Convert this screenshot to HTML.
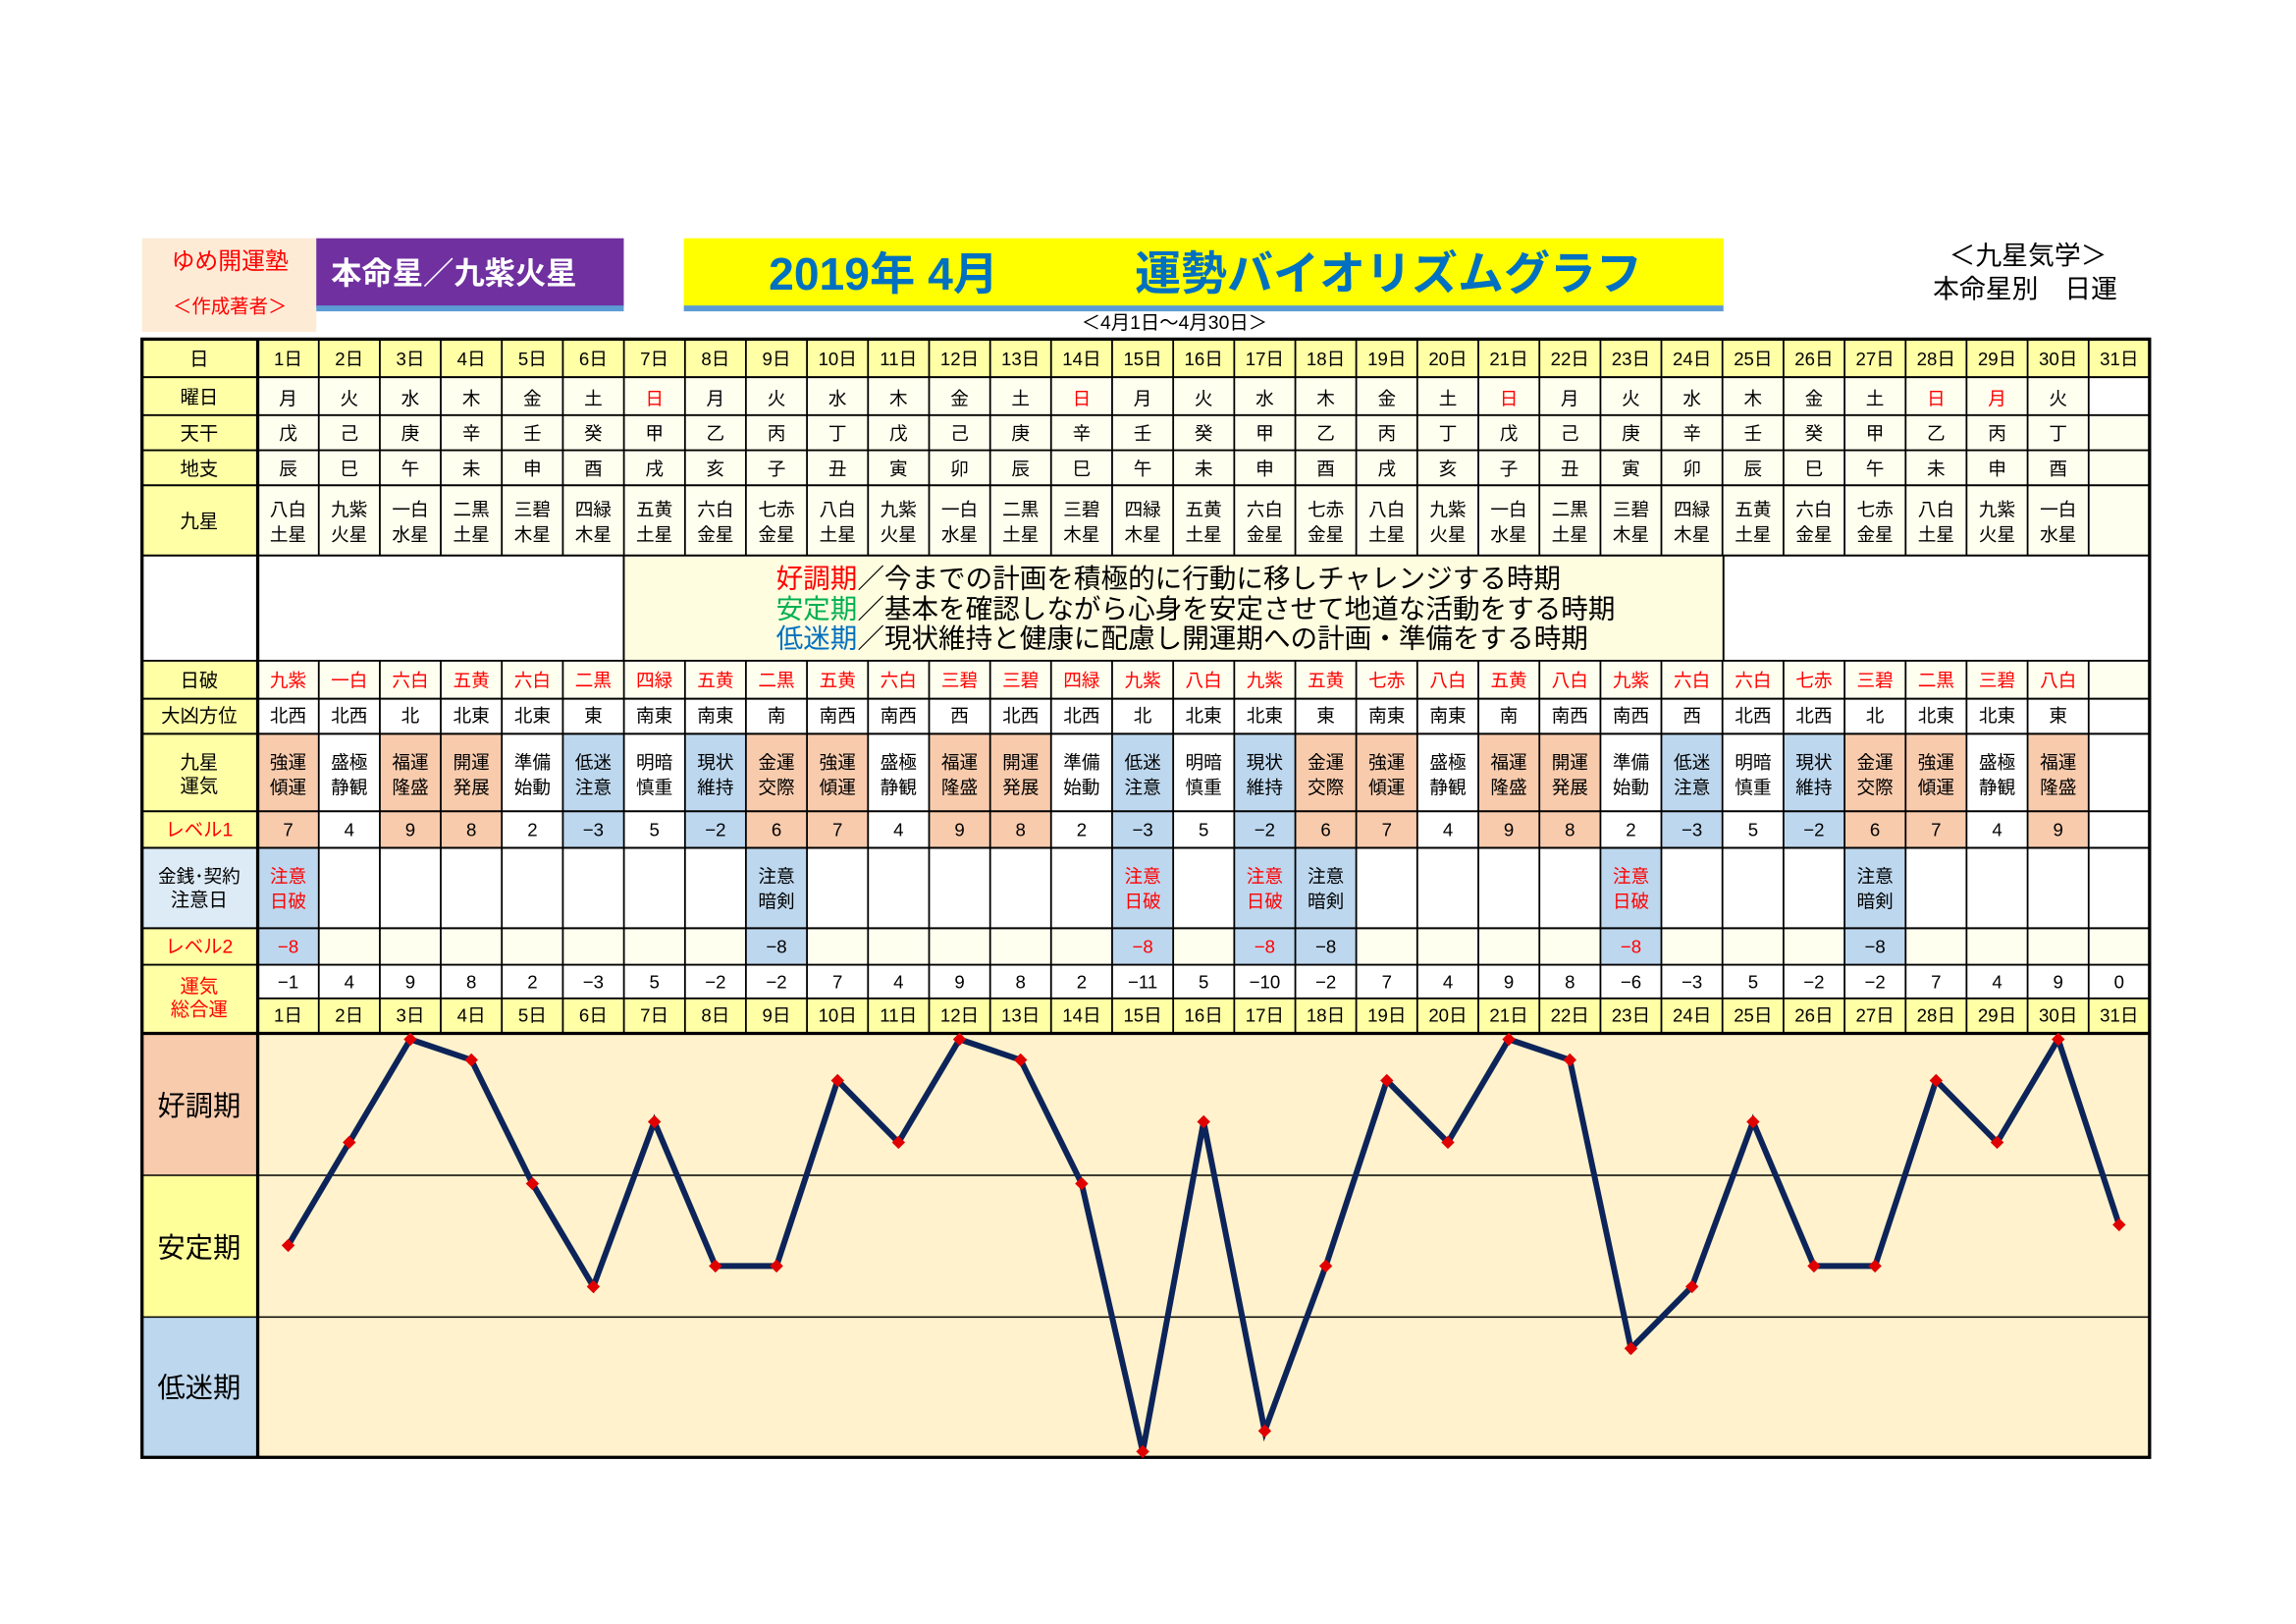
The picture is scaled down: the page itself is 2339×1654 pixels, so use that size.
<!DOCTYPE html>
<html><head><meta charset="utf-8"><style>
html,body{margin:0;padding:0;background:#fff;}
svg{display:block;}
text{font-family:"Liberation Sans","Noto Sans CJK JP",sans-serif;}
</style></head><body>
<svg width="2339" height="1654" viewBox="0 0 1568 1111" preserveAspectRatio="none" xmlns="http://www.w3.org/2000/svg">
<defs>
<marker id="dm" viewBox="-5 -5 10 10" markerWidth="10" markerHeight="10" markerUnits="userSpaceOnUse"><path d="M0,-4.5 L4.5,0 L0,4.5 L-4.5,0Z" fill="#e00000"/></marker>
</defs>
<rect width="1568" height="1111" fill="#fff"/>
<!-- header -->
<rect x="97" y="163" width="119" height="64" fill="#fdebd6"/>
<text x="157" y="184" font-size="16" fill="#ff0000" text-anchor="middle">ゆめ開運塾</text>
<text x="157" y="214" font-size="13" fill="#ff0000" text-anchor="middle">＜作成著者＞</text>
<rect x="216" y="163" width="210" height="47" fill="#7030a0"/>
<rect x="216" y="209" width="210" height="4" fill="#5b9bd5"/>
<text x="226" y="194" font-size="21" font-weight="bold" fill="#fff">本命星／九紫火星</text>
<rect x="467" y="163" width="710" height="47" fill="#ffff00"/>
<rect x="467" y="209" width="710" height="4" fill="#5b9bd5"/>
<text x="525" y="198" font-size="31" font-weight="bold" fill="#0070c0">2019年 4月</text>
<text x="775" y="198" font-size="31.5" font-weight="bold" fill="#0070c0">運勢バイオリズムグラフ</text>
<text x="802" y="225" font-size="13" text-anchor="middle">＜4月1日～4月30日＞</text>
<text x="1385" y="181" font-size="18" text-anchor="middle">＜九星気学＞</text>
<text x="1383" y="204" font-size="18" text-anchor="middle">本命星別　日運</text>

<!-- backgrounds -->
<rect x="97" y="232" width="1371" height="475" fill="#fffff0"/>
<rect x="97" y="232" width="1371" height="26" fill="#ffffa6"/>
<rect x="97" y="683" width="1371" height="24" fill="#ffffa6"/>
<rect x="97" y="232" width="79" height="475" fill="#ffffa6"/>
<rect x="97" y="580" width="79" height="55" fill="#ddebf7"/>
<rect x="97" y="380" width="1371" height="72" fill="#fff"/>
<rect x="426" y="380" width="751" height="72" fill="#fffde0"/>
<rect x="176" y="478" width="1292" height="24" fill="#fff"/>
<rect x="176" y="502" width="1292" height="78" fill="#fff"/>
<rect x="176" y="580" width="1292" height="55" fill="#fff"/>
<rect x="176" y="660" width="1292" height="23" fill="#fff"/>
<rect x="1426" y="258" width="42" height="26" fill="#fff"/>
<g fill="#f8cbad">
<rect x="176" y="502" width="41.7" height="78"/><rect x="259.4" y="502" width="41.7" height="78"/><rect x="301" y="502" width="41.7" height="78"/><rect x="509.4" y="502" width="41.7" height="78"/>
<rect x="551.1" y="502" width="41.7" height="78"/><rect x="634.5" y="502" width="41.7" height="78"/><rect x="676.2" y="502" width="41.7" height="78"/><rect x="884.6" y="502" width="41.7" height="78"/>
<rect x="926.2" y="502" width="41.7" height="78"/><rect x="1009.6" y="502" width="41.7" height="78"/><rect x="1051.3" y="502" width="41.7" height="78"/><rect x="1259.7" y="502" width="41.7" height="78"/>
<rect x="1301.4" y="502" width="41.7" height="78"/><rect x="1384.7" y="502" width="41.7" height="78"/>
</g>
<g fill="#bdd7ee">
<rect x="384.4" y="502" width="41.7" height="78"/><rect x="467.8" y="502" width="41.7" height="78"/><rect x="759.5" y="502" width="41.7" height="78"/><rect x="842.9" y="502" width="41.7" height="78"/>
<rect x="1134.6" y="502" width="41.7" height="78"/><rect x="1218" y="502" width="41.7" height="78"/>
<rect x="176" y="580" width="41.7" height="80"/><rect x="509.4" y="580" width="41.7" height="80"/><rect x="759.5" y="580" width="41.7" height="80"/><rect x="842.9" y="580" width="41.7" height="80"/>
<rect x="884.6" y="580" width="41.7" height="80"/><rect x="1093" y="580" width="41.7" height="80"/><rect x="1259.7" y="580" width="41.7" height="80"/>
</g>
<!-- chart -->
<rect x="176" y="707" width="1292" height="290" fill="#fff2cc"/>
<rect x="97" y="707" width="79" height="97" fill="#f8cbad"/>
<rect x="97" y="804" width="79" height="97" fill="#ffff99"/>
<rect x="97" y="901" width="79" height="96" fill="#bdd7ee"/>
<g stroke="#000" stroke-width="1">
<line x1="97" y1="804" x2="1468" y2="804"/><line x1="97" y1="901" x2="1468" y2="901"/>
</g>
<text x="136" y="763" font-size="19" text-anchor="middle">好調期</text>
<text x="136" y="860" font-size="19" text-anchor="middle">安定期</text>
<text x="136" y="956" font-size="19" text-anchor="middle">低迷期</text>

<!-- grid lines -->
<g stroke="#000" stroke-width="1.3">
<line x1="97" y1="258" x2="1468" y2="258"/><line x1="97" y1="284" x2="1468" y2="284"/><line x1="97" y1="308" x2="1468" y2="308"/><line x1="97" y1="332" x2="1468" y2="332"/><line x1="97" y1="380" x2="1468" y2="380"/><line x1="97" y1="452" x2="1468" y2="452"/><line x1="97" y1="478" x2="1468" y2="478"/><line x1="97" y1="502" x2="1468" y2="502"/><line x1="97" y1="555" x2="1468" y2="555"/><line x1="97" y1="580" x2="1468" y2="580"/><line x1="97" y1="635" x2="1468" y2="635"/><line x1="97" y1="660" x2="1468" y2="660"/><line x1="176" y1="683" x2="1468" y2="683"/>
<line x1="426" y1="380" x2="426" y2="452"/><line x1="1177" y1="380" x2="1177" y2="452"/>
</g>
<g stroke="#000" stroke-width="1.2">
<path d="M217.7 232V380M259.4 232V380M301 232V380M342.7 232V380M384.4 232V380M426.1 232V380M467.8 232V380M509.4 232V380M551.1 232V380M592.8 232V380M634.5 232V380M676.2 232V380M717.8 232V380M759.5 232V380M801.2 232V380M842.9 232V380M884.6 232V380M926.2 232V380M967.9 232V380M1009.6 232V380M1051.3 232V380M1093 232V380M1134.6 232V380M1176.3 232V380M1218 232V380M1259.7 232V380M1301.4 232V380M1343 232V380M1384.7 232V380M1426.4 232V380"/>
<path d="M217.7 452V707M259.4 452V707M301 452V707M342.7 452V707M384.4 452V707M426.1 452V707M467.8 452V707M509.4 452V707M551.1 452V707M592.8 452V707M634.5 452V707M676.2 452V707M717.8 452V707M759.5 452V707M801.2 452V707M842.9 452V707M884.6 452V707M926.2 452V707M967.9 452V707M1009.6 452V707M1051.3 452V707M1093 452V707M1134.6 452V707M1176.3 452V707M1218 452V707M1259.7 452V707M1301.4 452V707M1343 452V707M1384.7 452V707M1426.4 452V707"/>
</g>
<g stroke="#000" stroke-width="2.2" fill="none">
<rect x="97" y="232" width="1371" height="765"/>
<line x1="176" y1="232" x2="176" y2="997"/>
<line x1="97" y1="707" x2="1468" y2="707"/>
</g>

<!-- label column -->
<g font-size="13" text-anchor="middle">
<text x="136" y="250">日</text>
<text x="136" y="276">曜日</text>
<text x="136" y="301">天干</text>
<text x="136" y="325">地支</text>
<text x="136" y="361">九星</text>
<text x="136" y="470">日破</text>
<text x="136" y="494">大凶方位</text>
<text x="136" y="526">九星</text>
<text x="136" y="542">運気</text>
<text x="136" y="572" fill="#ff0000">レベル1</text>
<text x="136" y="604" font-size="12.5">金銭･契約</text>
<text x="136" y="620">注意日</text>
<text x="136" y="652" fill="#ff0000">レベル2</text>
<text x="136" y="679" fill="#ff0000">運気</text>
<text x="136" y="695" fill="#ff0000">総合運</text>
</g>

<!-- band text -->
<g font-size="18.5">
<text x="530" y="402"><tspan fill="#ff0000">好調期</tspan>／今までの計画を積極的に行動に移しチャレンジする時期</text>
<text x="530" y="423"><tspan fill="#00b050">安定期</tspan>／基本を確認しながら心身を安定させて地道な活動をする時期</text>
<text x="530" y="443"><tspan fill="#0070c0">低迷期</tspan>／現状維持と健康に配慮し開運期への計画・準備をする時期</text>
</g>

<g font-size="12.5" text-anchor="middle">
<g>
<text x="196.8" y="250">1日</text><text x="238.5" y="250">2日</text><text x="280.2" y="250">3日</text><text x="321.9" y="250">4日</text><text x="363.6" y="250">5日</text><text x="405.2" y="250">6日</text><text x="446.9" y="250">7日</text><text x="488.6" y="250">8日</text><text x="530.3" y="250">9日</text><text x="572" y="250">10日</text><text x="613.6" y="250">11日</text><text x="655.3" y="250">12日</text><text x="697" y="250">13日</text><text x="738.7" y="250">14日</text><text x="780.4" y="250">15日</text><text x="822" y="250">16日</text><text x="863.7" y="250">17日</text><text x="905.4" y="250">18日</text><text x="947.1" y="250">19日</text><text x="988.8" y="250">20日</text><text x="1030.4" y="250">21日</text><text x="1072.1" y="250">22日</text><text x="1113.8" y="250">23日</text><text x="1155.5" y="250">24日</text><text x="1197.2" y="250">25日</text><text x="1238.8" y="250">26日</text><text x="1280.5" y="250">27日</text><text x="1322.2" y="250">28日</text><text x="1363.9" y="250">29日</text><text x="1405.6" y="250">30日</text><text x="1447.2" y="250">31日</text>
</g>
<g>
<text x="196.8" y="699">1日</text><text x="238.5" y="699">2日</text><text x="280.2" y="699">3日</text><text x="321.9" y="699">4日</text><text x="363.6" y="699">5日</text><text x="405.2" y="699">6日</text><text x="446.9" y="699">7日</text><text x="488.6" y="699">8日</text><text x="530.3" y="699">9日</text><text x="572" y="699">10日</text><text x="613.6" y="699">11日</text><text x="655.3" y="699">12日</text><text x="697" y="699">13日</text><text x="738.7" y="699">14日</text><text x="780.4" y="699">15日</text><text x="822" y="699">16日</text><text x="863.7" y="699">17日</text><text x="905.4" y="699">18日</text><text x="947.1" y="699">19日</text><text x="988.8" y="699">20日</text><text x="1030.4" y="699">21日</text><text x="1072.1" y="699">22日</text><text x="1113.8" y="699">23日</text><text x="1155.5" y="699">24日</text><text x="1197.2" y="699">25日</text><text x="1238.8" y="699">26日</text><text x="1280.5" y="699">27日</text><text x="1322.2" y="699">28日</text><text x="1363.9" y="699">29日</text><text x="1405.6" y="699">30日</text><text x="1447.2" y="699">31日</text>
</g>
<g>
<text x="196.8" y="277">月</text><text x="238.5" y="277">火</text><text x="280.2" y="277">水</text><text x="321.9" y="277">木</text><text x="363.6" y="277">金</text><text x="405.2" y="277">土</text><text x="446.9" y="277" fill="#ff0000">日</text><text x="488.6" y="277">月</text><text x="530.3" y="277">火</text><text x="572" y="277">水</text><text x="613.6" y="277">木</text><text x="655.3" y="277">金</text><text x="697" y="277">土</text><text x="738.7" y="277" fill="#ff0000">日</text><text x="780.4" y="277">月</text><text x="822" y="277">火</text><text x="863.7" y="277">水</text><text x="905.4" y="277">木</text><text x="947.1" y="277">金</text><text x="988.8" y="277">土</text><text x="1030.4" y="277" fill="#ff0000">日</text><text x="1072.1" y="277">月</text><text x="1113.8" y="277">火</text><text x="1155.5" y="277">水</text><text x="1197.2" y="277">木</text><text x="1238.8" y="277">金</text><text x="1280.5" y="277">土</text><text x="1322.2" y="277" fill="#ff0000">日</text><text x="1363.9" y="277" fill="#ff0000">月</text><text x="1405.6" y="277">火</text>
</g>
<g>
<text x="196.8" y="301">戊</text><text x="238.5" y="301">己</text><text x="280.2" y="301">庚</text><text x="321.9" y="301">辛</text><text x="363.6" y="301">壬</text><text x="405.2" y="301">癸</text><text x="446.9" y="301">甲</text><text x="488.6" y="301">乙</text><text x="530.3" y="301">丙</text><text x="572" y="301">丁</text><text x="613.6" y="301">戊</text><text x="655.3" y="301">己</text><text x="697" y="301">庚</text><text x="738.7" y="301">辛</text><text x="780.4" y="301">壬</text><text x="822" y="301">癸</text><text x="863.7" y="301">甲</text><text x="905.4" y="301">乙</text><text x="947.1" y="301">丙</text><text x="988.8" y="301">丁</text><text x="1030.4" y="301">戊</text><text x="1072.1" y="301">己</text><text x="1113.8" y="301">庚</text><text x="1155.5" y="301">辛</text><text x="1197.2" y="301">壬</text><text x="1238.8" y="301">癸</text><text x="1280.5" y="301">甲</text><text x="1322.2" y="301">乙</text><text x="1363.9" y="301">丙</text><text x="1405.6" y="301">丁</text>
</g>
<g>
<text x="196.8" y="325">辰</text><text x="238.5" y="325">巳</text><text x="280.2" y="325">午</text><text x="321.9" y="325">未</text><text x="363.6" y="325">申</text><text x="405.2" y="325">酉</text><text x="446.9" y="325">戌</text><text x="488.6" y="325">亥</text><text x="530.3" y="325">子</text><text x="572" y="325">丑</text><text x="613.6" y="325">寅</text><text x="655.3" y="325">卯</text><text x="697" y="325">辰</text><text x="738.7" y="325">巳</text><text x="780.4" y="325">午</text><text x="822" y="325">未</text><text x="863.7" y="325">申</text><text x="905.4" y="325">酉</text><text x="947.1" y="325">戌</text><text x="988.8" y="325">亥</text><text x="1030.4" y="325">子</text><text x="1072.1" y="325">丑</text><text x="1113.8" y="325">寅</text><text x="1155.5" y="325">卯</text><text x="1197.2" y="325">辰</text><text x="1238.8" y="325">巳</text><text x="1280.5" y="325">午</text><text x="1322.2" y="325">未</text><text x="1363.9" y="325">申</text><text x="1405.6" y="325">酉</text>
</g>
<g>
<text x="196.8" y="353">八白</text><text x="238.5" y="353">九紫</text><text x="280.2" y="353">一白</text><text x="321.9" y="353">二黒</text><text x="363.6" y="353">三碧</text><text x="405.2" y="353">四緑</text><text x="446.9" y="353">五黄</text><text x="488.6" y="353">六白</text><text x="530.3" y="353">七赤</text><text x="572" y="353">八白</text><text x="613.6" y="353">九紫</text><text x="655.3" y="353">一白</text><text x="697" y="353">二黒</text><text x="738.7" y="353">三碧</text><text x="780.4" y="353">四緑</text><text x="822" y="353">五黄</text><text x="863.7" y="353">六白</text><text x="905.4" y="353">七赤</text><text x="947.1" y="353">八白</text><text x="988.8" y="353">九紫</text><text x="1030.4" y="353">一白</text><text x="1072.1" y="353">二黒</text><text x="1113.8" y="353">三碧</text><text x="1155.5" y="353">四緑</text><text x="1197.2" y="353">五黄</text><text x="1238.8" y="353">六白</text><text x="1280.5" y="353">七赤</text><text x="1322.2" y="353">八白</text><text x="1363.9" y="353">九紫</text><text x="1405.6" y="353">一白</text>
<text x="196.8" y="370">土星</text><text x="238.5" y="370">火星</text><text x="280.2" y="370">水星</text><text x="321.9" y="370">土星</text><text x="363.6" y="370">木星</text><text x="405.2" y="370">木星</text><text x="446.9" y="370">土星</text><text x="488.6" y="370">金星</text><text x="530.3" y="370">金星</text><text x="572" y="370">土星</text><text x="613.6" y="370">火星</text><text x="655.3" y="370">水星</text><text x="697" y="370">土星</text><text x="738.7" y="370">木星</text><text x="780.4" y="370">木星</text><text x="822" y="370">土星</text><text x="863.7" y="370">金星</text><text x="905.4" y="370">金星</text><text x="947.1" y="370">土星</text><text x="988.8" y="370">火星</text><text x="1030.4" y="370">水星</text><text x="1072.1" y="370">土星</text><text x="1113.8" y="370">木星</text><text x="1155.5" y="370">木星</text><text x="1197.2" y="370">土星</text><text x="1238.8" y="370">金星</text><text x="1280.5" y="370">金星</text><text x="1322.2" y="370">土星</text><text x="1363.9" y="370">火星</text><text x="1405.6" y="370">水星</text>
</g>
<g fill="#ff0000">
<text x="196.8" y="470">九紫</text><text x="238.5" y="470">一白</text><text x="280.2" y="470">六白</text><text x="321.9" y="470">五黄</text><text x="363.6" y="470">六白</text><text x="405.2" y="470">二黒</text><text x="446.9" y="470">四緑</text><text x="488.6" y="470">五黄</text><text x="530.3" y="470">二黒</text><text x="572" y="470">五黄</text><text x="613.6" y="470">六白</text><text x="655.3" y="470">三碧</text><text x="697" y="470">三碧</text><text x="738.7" y="470">四緑</text><text x="780.4" y="470">九紫</text><text x="822" y="470">八白</text><text x="863.7" y="470">九紫</text><text x="905.4" y="470">五黄</text><text x="947.1" y="470">七赤</text><text x="988.8" y="470">八白</text><text x="1030.4" y="470">五黄</text><text x="1072.1" y="470">八白</text><text x="1113.8" y="470">九紫</text><text x="1155.5" y="470">六白</text><text x="1197.2" y="470">六白</text><text x="1238.8" y="470">七赤</text><text x="1280.5" y="470">三碧</text><text x="1322.2" y="470">二黒</text><text x="1363.9" y="470">三碧</text><text x="1405.6" y="470">八白</text>
</g>
<g>
<text x="196.8" y="494">北西</text><text x="238.5" y="494">北西</text><text x="280.2" y="494">北</text><text x="321.9" y="494">北東</text><text x="363.6" y="494">北東</text><text x="405.2" y="494">東</text><text x="446.9" y="494">南東</text><text x="488.6" y="494">南東</text><text x="530.3" y="494">南</text><text x="572" y="494">南西</text><text x="613.6" y="494">南西</text><text x="655.3" y="494">西</text><text x="697" y="494">北西</text><text x="738.7" y="494">北西</text><text x="780.4" y="494">北</text><text x="822" y="494">北東</text><text x="863.7" y="494">北東</text><text x="905.4" y="494">東</text><text x="947.1" y="494">南東</text><text x="988.8" y="494">南東</text><text x="1030.4" y="494">南</text><text x="1072.1" y="494">南西</text><text x="1113.8" y="494">南西</text><text x="1155.5" y="494">西</text><text x="1197.2" y="494">北西</text><text x="1238.8" y="494">北西</text><text x="1280.5" y="494">北</text><text x="1322.2" y="494">北東</text><text x="1363.9" y="494">北東</text><text x="1405.6" y="494">東</text>
</g>
<g>
<text x="196.8" y="526">強運</text><text x="238.5" y="526">盛極</text><text x="280.2" y="526">福運</text><text x="321.9" y="526">開運</text><text x="363.6" y="526">準備</text><text x="405.2" y="526">低迷</text><text x="446.9" y="526">明暗</text><text x="488.6" y="526">現状</text><text x="530.3" y="526">金運</text><text x="572" y="526">強運</text><text x="613.6" y="526">盛極</text><text x="655.3" y="526">福運</text><text x="697" y="526">開運</text><text x="738.7" y="526">準備</text><text x="780.4" y="526">低迷</text><text x="822" y="526">明暗</text><text x="863.7" y="526">現状</text><text x="905.4" y="526">金運</text><text x="947.1" y="526">強運</text><text x="988.8" y="526">盛極</text><text x="1030.4" y="526">福運</text><text x="1072.1" y="526">開運</text><text x="1113.8" y="526">準備</text><text x="1155.5" y="526">低迷</text><text x="1197.2" y="526">明暗</text><text x="1238.8" y="526">現状</text><text x="1280.5" y="526">金運</text><text x="1322.2" y="526">強運</text><text x="1363.9" y="526">盛極</text><text x="1405.6" y="526">福運</text>
<text x="196.8" y="543">傾運</text><text x="238.5" y="543">静観</text><text x="280.2" y="543">隆盛</text><text x="321.9" y="543">発展</text><text x="363.6" y="543">始動</text><text x="405.2" y="543">注意</text><text x="446.9" y="543">慎重</text><text x="488.6" y="543">維持</text><text x="530.3" y="543">交際</text><text x="572" y="543">傾運</text><text x="613.6" y="543">静観</text><text x="655.3" y="543">隆盛</text><text x="697" y="543">発展</text><text x="738.7" y="543">始動</text><text x="780.4" y="543">注意</text><text x="822" y="543">慎重</text><text x="863.7" y="543">維持</text><text x="905.4" y="543">交際</text><text x="947.1" y="543">傾運</text><text x="988.8" y="543">静観</text><text x="1030.4" y="543">隆盛</text><text x="1072.1" y="543">発展</text><text x="1113.8" y="543">始動</text><text x="1155.5" y="543">注意</text><text x="1197.2" y="543">慎重</text><text x="1238.8" y="543">維持</text><text x="1280.5" y="543">交際</text><text x="1322.2" y="543">傾運</text><text x="1363.9" y="543">静観</text><text x="1405.6" y="543">隆盛</text>
</g>
<g>
<text x="196.8" y="572">7</text><text x="238.5" y="572">4</text><text x="280.2" y="572">9</text><text x="321.9" y="572">8</text><text x="363.6" y="572">2</text><text x="405.2" y="572">−3</text><text x="446.9" y="572">5</text><text x="488.6" y="572">−2</text><text x="530.3" y="572">6</text><text x="572" y="572">7</text><text x="613.6" y="572">4</text><text x="655.3" y="572">9</text><text x="697" y="572">8</text><text x="738.7" y="572">2</text><text x="780.4" y="572">−3</text><text x="822" y="572">5</text><text x="863.7" y="572">−2</text><text x="905.4" y="572">6</text><text x="947.1" y="572">7</text><text x="988.8" y="572">4</text><text x="1030.4" y="572">9</text><text x="1072.1" y="572">8</text><text x="1113.8" y="572">2</text><text x="1155.5" y="572">−3</text><text x="1197.2" y="572">5</text><text x="1238.8" y="572">−2</text><text x="1280.5" y="572">6</text><text x="1322.2" y="572">7</text><text x="1363.9" y="572">4</text><text x="1405.6" y="572">9</text>
</g>
<g>
<text x="196.8" y="604" fill="#ff0000">注意</text><text x="196.8" y="621" fill="#ff0000">日破</text>
<text x="530.3" y="604">注意</text><text x="530.3" y="621">暗剣</text>
<text x="780.4" y="604" fill="#ff0000">注意</text><text x="780.4" y="621" fill="#ff0000">日破</text>
<text x="863.7" y="604" fill="#ff0000">注意</text><text x="863.7" y="621" fill="#ff0000">日破</text>
<text x="905.4" y="604">注意</text><text x="905.4" y="621">暗剣</text>
<text x="1113.8" y="604" fill="#ff0000">注意</text><text x="1113.8" y="621" fill="#ff0000">日破</text>
<text x="1280.5" y="604">注意</text><text x="1280.5" y="621">暗剣</text>
</g>
<g>
<text x="196.8" y="652" fill="#ff0000">−8</text><text x="530.3" y="652">−8</text><text x="780.4" y="652" fill="#ff0000">−8</text><text x="863.7" y="652" fill="#ff0000">−8</text><text x="905.4" y="652">−8</text><text x="1113.8" y="652" fill="#ff0000">−8</text><text x="1280.5" y="652">−8</text>
</g>
<g>
<text x="196.8" y="676">−1</text><text x="238.5" y="676">4</text><text x="280.2" y="676">9</text><text x="321.9" y="676">8</text><text x="363.6" y="676">2</text><text x="405.2" y="676">−3</text><text x="446.9" y="676">5</text><text x="488.6" y="676">−2</text><text x="530.3" y="676">−2</text><text x="572" y="676">7</text><text x="613.6" y="676">4</text><text x="655.3" y="676">9</text><text x="697" y="676">8</text><text x="738.7" y="676">2</text><text x="780.4" y="676">−11</text><text x="822" y="676">5</text><text x="863.7" y="676">−10</text><text x="905.4" y="676">−2</text><text x="947.1" y="676">7</text><text x="988.8" y="676">4</text><text x="1030.4" y="676">9</text><text x="1072.1" y="676">8</text><text x="1113.8" y="676">−6</text><text x="1155.5" y="676">−3</text><text x="1197.2" y="676">5</text><text x="1238.8" y="676">−2</text><text x="1280.5" y="676">−2</text><text x="1322.2" y="676">7</text><text x="1363.9" y="676">4</text><text x="1405.6" y="676">9</text><text x="1447.2" y="676">0</text>
</g>
</g>

<polyline fill="none" stroke="#0c2459" stroke-width="4" stroke-linejoin="miter" marker-start="url(#dm)" marker-mid="url(#dm)" marker-end="url(#dm)"
points="196.8,852 238.5,781.5 280.2,711 321.9,725.1 363.6,809.7 405.2,880.2 446.9,767.4 488.6,866.1 530.3,866.1 572,739.2 613.6,781.5 655.3,711 697,725.1 738.7,809.7 780.4,993 822,767.4 863.7,978.9 905.4,866.1 947.1,739.2 988.8,781.5 1030.4,711 1072.1,725.1 1113.8,922.5 1155.5,880.2 1197.2,767.4 1238.8,866.1 1280.5,866.1 1322.2,739.2 1363.9,781.5 1405.6,711 1447.2,837.9"/>
</svg>
</body></html>
